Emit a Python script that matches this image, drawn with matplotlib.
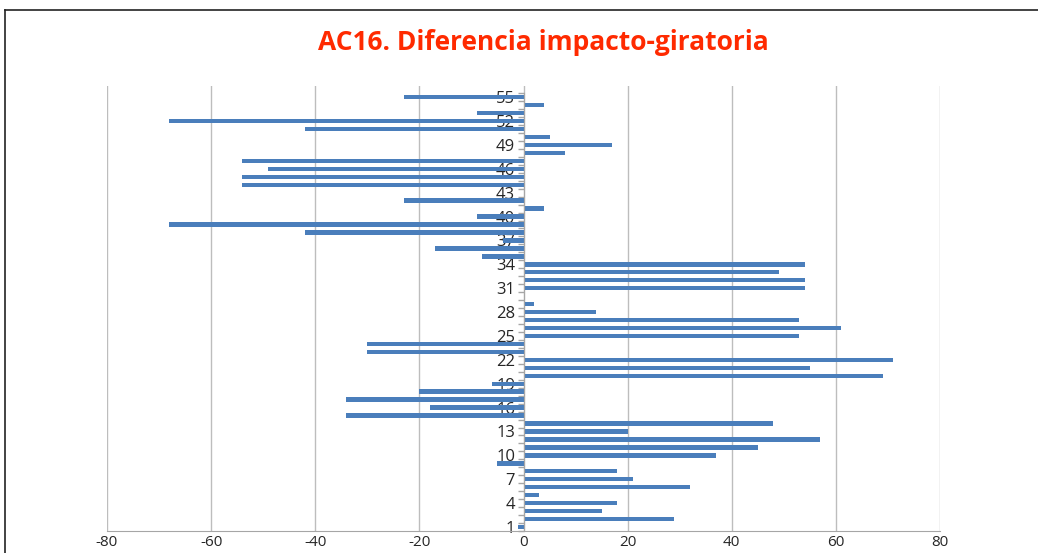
import matplotlib
matplotlib.use("Agg")
import matplotlib.pyplot as plt
from matplotlib.lines import Line2D
from matplotlib.ticker import FixedLocator

# Diferencia impacto - giratoria por caso (1..55)
casos = list(range(1, 56))
diferencia = [
    -1, 29, 15, 18, 3, 32, 21, 18, -5, 37,
    45, 57, 20, 48, -34, -18, -34, -20, -6, 69,
    55, 71, -30, -30, 53, 61, 53, 14, 2, 0,
    54, 54, 49, 54, -8, -17, -4, -42, -68, -9,
    4, -23, 0, -54, -54, -49, -54, 8, 17, 5,
    -42, -68, -9, 4, -23,
]
etiquetas = casos[::3]
x_ticks = [-80, -60, -40, -20, 0, 20, 40, 60, 80]

W, H = 1038, 553
fig = plt.figure(figsize=(W / 100, H / 100), dpi=100)
fig.patch.set_facecolor("white")

# outer chart frame (left and top edges only are visible)
fig.add_artist(Line2D([5 / W, 5 / W], [0, 1 - 10 / H], transform=fig.transFigure,
                      color="#222222", lw=1.2))
fig.add_artist(Line2D([5 / W, 1], [1 - 10 / H, 1 - 10 / H], transform=fig.transFigure,
                      color="#222222", lw=1.2))

ax = fig.add_axes([107 / W, 22 / H, (940 - 107) / W, (531 - 86) / H])

ax.barh(casos, diferencia, height=0.55, color="#4A7EBB", zorder=3)

ax.set_xlim(-80, 80)
ax.set_ylim(0.5, 56.4)
ax.set_xticks(x_ticks)
ax.set_xticklabels([str(v) for v in x_ticks])
ax.grid(axis="x", color="#BDBDBD", lw=1.0, zorder=0)

for s in ("top", "right"):
    ax.spines[s].set_visible(False)
ax.spines["bottom"].set_color("#A6A6A6")

# category axis crosses at x = 0
ax.spines["left"].set_position(("data", 0))
ax.spines["left"].set_bounds(0.5, 55.5)
ax.spines["left"].set_color("#A6A6A6")
ax.spines["left"].set_zorder(4)
ax.yaxis.set_major_locator(FixedLocator(etiquetas))
ax.set_yticklabels([str(v) for v in etiquetas])
ax.yaxis.set_minor_locator(FixedLocator([c + 0.5 for c in range(0, 56)]))
ax.tick_params(axis="y", which="major", length=0, pad=6, labelsize=12,
               labelcolor="#262626")
ax.tick_params(axis="y", which="minor", length=4, width=1.0, color="#A6A6A6",
               direction="out")
for lab in ax.get_yticklabels():
    lab.set_zorder(5)
    lab.set_fontfamily("Open Sans")

ax.tick_params(axis="x", length=0, pad=3, labelsize=11, labelcolor="#262626")
for lab in ax.get_xticklabels():
    lab.set_fontfamily("Open Sans")

fig.text(543 / W, 1 - 42 / H, "AC16. Diferencia impacto-giratoria", ha="center",
         va="center", fontsize=19, fontweight="bold", color="#FF2A00",
         fontfamily="Open Sans")

fig.savefig("out.png", dpi=100)
